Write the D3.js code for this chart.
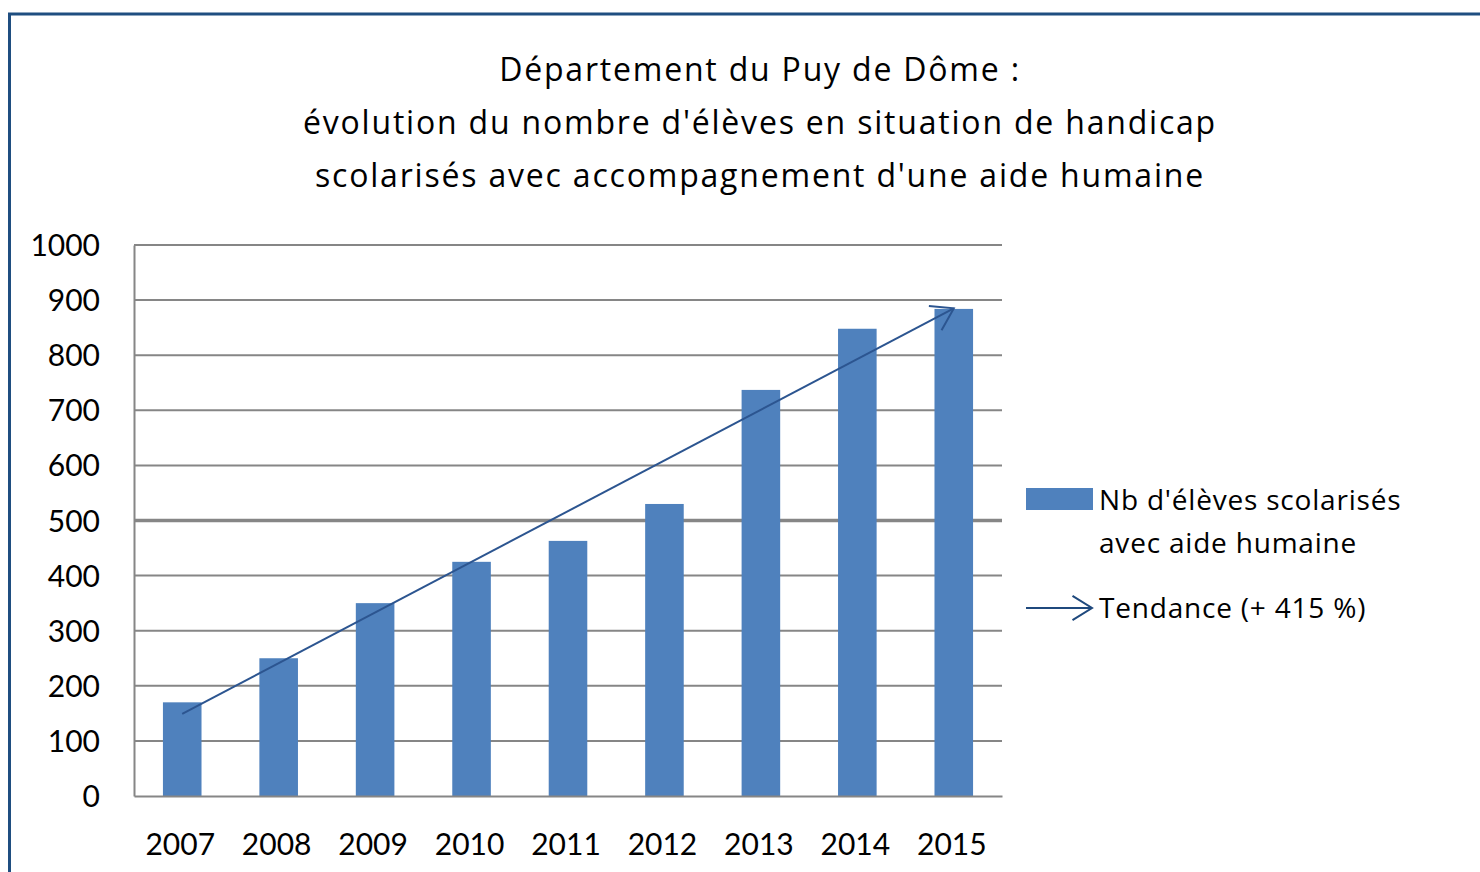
<!DOCTYPE html>
<html>
<head>
<meta charset="utf-8">
<script src="https://cdn.jsdelivr.net/npm/d3@7"></script>
<style>
  body { margin: 0; background: #fff; }
  text { font-family: Lato, "Open Sans", sans-serif; fill: #000; }
  .title { font-family: "Open Sans", Lato, sans-serif; letter-spacing: 1.8px; }
  .legend-text { font-family: "Open Sans", Lato, sans-serif; letter-spacing: 0.8px; }
</style>
</head>
<body>
<script>
// chart data
var years = ["2007", "2008", "2009", "2010", "2011", "2012", "2013", "2014", "2015"];
var eleves = [170, 250, 350, 425, 463, 530, 737, 848, 884];
var trendYears = ["2007", "2015"];
var trendValues = [149, 885];
var yTicks = [0, 100, 200, 300, 400, 500, 600, 700, 800, 900, 1000];
var titleLines = [
    "Département du Puy de Dôme :",
    "évolution du nombre d'élèves en situation de handicap",
    "scolarisés avec accompagnement d'une aide humaine"
];
var legendBar = ["Nb d'élèves scolarisés", "avec aide humaine"];
var legendTrend = "Tendance (+ 415 %)";

var W = 1480, H = 872;
var margin = {top: 245, right: 478, bottom: 76, left: 134};
var width = W - margin.left - margin.right;
var height = H - margin.top - margin.bottom;

var svg = d3.select("body").append("svg")
    .attr("width", W)
    .attr("height", H);

// outer frame (only top and left edges are visible)
svg.append("path")
    .attr("d", "M9.5,872 V14 H1480")
    .attr("fill", "none")
    .attr("stroke", "#1f4e80")
    .attr("stroke-width", 3);

// title
svg.append("g").selectAll("text")
    .data(titleLines)
    .enter().append("text")
    .attr("class", "title")
    .attr("x", 760)
    .attr("y", function(d, i) { return 81 + i * 53; })
    .attr("text-anchor", "middle")
    .style("font-size", "32px")
    .text(function(d) { return d; });

var x = d3.scaleBand().domain(years).range([0, width]).paddingInner(0.6).paddingOuter(0.3);
var y = d3.scaleLinear().domain([0, 1000]).range([height, 0]);

var g = svg.append("g")
    .attr("transform", "translate(" + margin.left + "," + margin.top + ")");

// gridlines
g.append("g")
    .selectAll("line")
    .data(yTicks.filter(function(d) { return d > 0; }))
    .enter().append("line")
    .attr("x1", 0)
    .attr("x2", width)
    .attr("y1", function(d) { return y(d); })
    .attr("y2", function(d) { return y(d); })
    .attr("stroke", "#868686")
    .attr("stroke-width", function(d) { return d === 500 ? 3.5 : 2; });

// y axis
var yAxis = g.append("g")
    .attr("class", "y axis")
    .call(d3.axisLeft(y).tickValues(yTicks).tickFormat(d3.format("d")).tickSize(0).tickPadding(34));
yAxis.select(".domain").attr("stroke", "#868686").attr("stroke-width", 2);
yAxis.selectAll("text").style("font-size", "30px").attr("dy", "0.35em");

// bars
g.selectAll("rect.bar")
    .data(years)
    .enter().append("rect")
    .attr("class", "bar")
    .attr("x", function(d) { return x(d); })
    .attr("y", function(d, i) { return y(eleves[i]); })
    .attr("width", x.bandwidth())
    .attr("height", function(d, i) { return height - y(eleves[i]); })
    .attr("fill", "#4f81bd");

// x axis
var xAxis = g.append("g")
    .attr("class", "x axis")
    .attr("transform", "translate(0," + height + ")")
    .call(d3.axisBottom(x).tickSize(0).tickPadding(38));
xAxis.select(".domain").attr("stroke", "#868686").attr("stroke-width", 2);
xAxis.selectAll("text").style("font-size", "30px").attr("dx", "-2px");

// open arrow head helper
function arrowHead(x1, y1, x2, y2, len, deg) {
    var a = Math.atan2(y2 - y1, x2 - x1);
    var r = deg * Math.PI / 180;
    var p1 = [x2 - len * Math.cos(a - r), y2 - len * Math.sin(a - r)];
    var p2 = [x2 - len * Math.cos(a + r), y2 - len * Math.sin(a + r)];
    return "M" + p1 + "L" + [x2, y2] + "L" + p2;
}

// trend line
var tx1 = x(trendYears[0]) + x.bandwidth() / 2, ty1 = y(trendValues[0]);
var tx2 = x(trendYears[1]) + x.bandwidth() / 2, ty2 = y(trendValues[1]);
g.append("line")
    .attr("x1", tx1).attr("y1", ty1)
    .attr("x2", tx2).attr("y2", ty2)
    .attr("stroke", "#2c5590")
    .attr("stroke-width", 2);
g.append("path")
    .attr("d", arrowHead(tx1, ty1, tx2, ty2, 25, 33))
    .attr("fill", "none")
    .attr("stroke", "#2c5590")
    .attr("stroke-width", 2);

// legend
var legend = svg.append("g").attr("transform", "translate(1026,488)");
legend.append("rect")
    .attr("width", 67)
    .attr("height", 22)
    .attr("fill", "#4f81bd");
legend.selectAll("text.lb")
    .data(legendBar)
    .enter().append("text")
    .attr("class", "lb legend-text")
    .attr("x", 73)
    .attr("y", function(d, i) { return 22 + i * 43; })
    .style("font-size", "28px")
    .text(function(d) { return d; });

legend.append("line")
    .attr("x1", 0).attr("y1", 120)
    .attr("x2", 66).attr("y2", 120)
    .attr("stroke", "#1f497d")
    .attr("stroke-width", 2);
legend.append("path")
    .attr("d", arrowHead(0, 120, 66, 120, 23, 32))
    .attr("fill", "none")
    .attr("stroke", "#1f497d")
    .attr("stroke-width", 2);
legend.append("text")
    .attr("class", "legend-text")
    .attr("x", 73)
    .attr("y", 130)
    .style("font-size", "28px")
    .text(legendTrend);
</script>
</body>
</html>
